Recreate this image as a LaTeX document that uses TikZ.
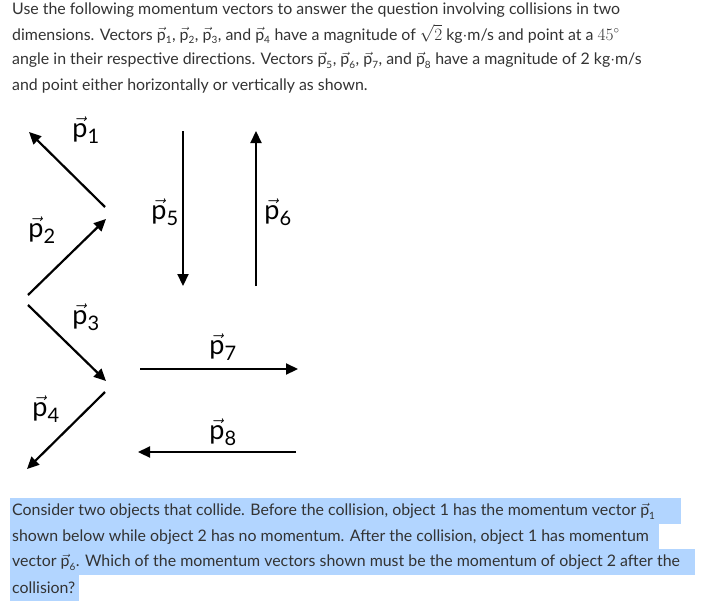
\documentclass[tikz,border=0pt]{standalone}
\usepackage{fontspec}
\setmainfont{Lato}
\usetikzlibrary{arrows.meta}
\newcommand\vp[1]{\ensuremath{\vec{\mbox{p}}_{\mbox{\fontsize{10}{10}\selectfont #1}}}}
\newcommand\vP[1]{\ensuremath{\vec{\mbox{p}}_{\mbox{\fontsize{20}{20}\selectfont #1}}}}
\begin{document}
\begin{tikzpicture}[x=1pt,y=-1pt,
  vec/.style={line width=2.2pt,-{Triangle[length=12pt,width=11pt]}},
  lab/.style={font=\fontsize{27}{27}\selectfont},
  txt/.style={anchor=west,inner sep=0pt,font=\fontsize{15.9}{17}\selectfont,text=black!80},
  hl/.style={fill=blue!55!cyan!30!white,draw=none}]
\useasboundingbox (0,0) rectangle (710,611);
\fill[white] (0,0) rectangle (710,611);
\node[txt] (t1) at (12,10) {Use the following momentum vectors to answer the question involving collisions in two};
\node[txt] (t2) at (12,34) {dimensions. Vectors \vp1, \vp2, \vp3, and \vp4 have a magnitude of $\sqrt{2}$ kg$\cdot$m/s and point at a $45^\circ$};
\node[txt] (t3) at (12,60) {angle in their respective directions. Vectors \vp5, \vp6, \vp7, and \vp8 have a magnitude of 2 kg$\cdot$m/s};
\node[txt] (t4) at (12,86) {and point either horizontally or vertically as shown.};
\coordinate (a1) at (105,207); \coordinate (b1) at (29,132);
\coordinate (a2) at (28,295); \coordinate (b2) at (106,219);
\coordinate (a3) at (28,305); \coordinate (b3) at (106,381);
\coordinate (a4) at (105,392); \coordinate (b4) at (27,469);
\coordinate (a5) at (183,131); \coordinate (b5) at (183,286);
\coordinate (a6) at (256,286); \coordinate (b6) at (256,131);
\coordinate (a7) at (140,369); \coordinate (b7) at (298,369);
\coordinate (a8) at (296,452); \coordinate (b8) at (138,452);
\foreach \i in {1,...,8} \draw[vec] (a\i) -- (b\i);
\node[lab] (l1) at (86,130) {\vP1};
\node[lab] (l2) at (42,230) {\vP2};
\node[lab] (l3) at (86,317) {\vP3};
\node[lab] (l4) at (46,409) {\vP4};
\node[lab] (l5) at (165,212) {\vP5};
\node[lab] (l6) at (278,212) {\vP6};
\node[lab] (l7) at (223,347) {\vP7};
\node[lab] (l8) at (223,432) {\vP8};
\fill[hl] (10,498) rectangle (681,524);
\fill[hl] (10,524) rectangle (659,549);
\fill[hl] (10,549) rectangle (695,575);
\fill[hl] (10,575) rectangle (79,601);
\node[txt] (u1) at (12,511) {Consider two objects that collide. Before the collision, object 1 has the momentum vector \vp1};
\node[txt] (u2) at (12,537) {shown below while object 2 has no momentum. After the collision, object 1 has momentum};
\node[txt] (u3) at (12,562) {vector \vp6. Which of the momentum vectors shown must be the momentum of object 2 after the};
\node[txt] (u4) at (12,588) {collision?};
\end{tikzpicture}
\end{document}
